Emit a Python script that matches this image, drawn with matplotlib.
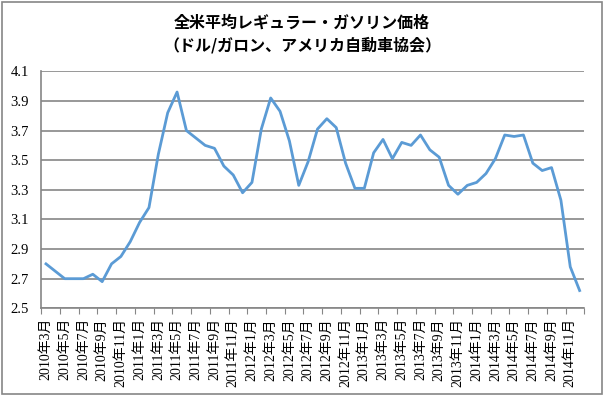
import matplotlib
matplotlib.use("Agg")
import matplotlib.pyplot as plt
import numpy as np
from matplotlib.patches import Rectangle

plt.rcParams['font.family'] = ['Liberation Serif', 'Noto Sans CJK JP', 'DejaVu Sans']

# monthly average, 2010/3 - 2014/12
months = []
for y in range(2010, 2015):
    for m in range(1, 13):
        if (y == 2010 and m < 3):
            continue
        months.append(f"{y}年{m}月")

price = [2.80, 2.75, 2.70, 2.70, 2.70, 2.73, 2.68, 2.80, 2.85, 2.95,
         3.08, 3.18, 3.54, 3.82, 3.96, 3.70, 3.65, 3.60, 3.58, 3.46,
         3.40, 3.28, 3.35, 3.71, 3.92, 3.83, 3.63, 3.33, 3.49, 3.71,
         3.78, 3.72, 3.48, 3.31, 3.31, 3.55, 3.64, 3.51, 3.62, 3.60,
         3.67, 3.57, 3.52, 3.33, 3.27, 3.33, 3.35, 3.41, 3.51, 3.67,
         3.66, 3.67, 3.48, 3.43, 3.45, 3.23, 2.78, 2.62]

yticks = [2.5, 2.7, 2.9, 3.1, 3.3, 3.5, 3.7, 3.9, 4.1]

fig = plt.figure(figsize=(6.04, 3.97), dpi=100)
ax = fig.add_axes([0.0684, 0.2234, 0.899, 0.597])

x = np.arange(len(price))
ax.plot(x, price, color='#5B9BD5', lw=2.0, solid_joinstyle='round', zorder=3)

ax.set_xlim(-0.5, len(price) - 0.5)
ax.set_ylim(2.5, 4.1)
ax.set_yticks(yticks)
ax.set_yticklabels([f"{v:.1f}" for v in yticks], fontsize=10.5)
ax.tick_params(axis='y', length=0, pad=9)
ax.yaxis.grid(True, color='#868686', lw=1.2)
ax.set_axisbelow(True)

# ticks between categories, labels every 2 months
ax.set_xticks(np.arange(-0.5, len(price), 2))
ax.set_xticklabels([])
ax.set_xticks(x[::2], minor=True)
ax.set_xticklabels(months[::2], minor=True, rotation=90, fontsize=10)
ax.tick_params(axis='x', which='major', length=4, color='#868686', direction='out')
ax.tick_params(axis='x', which='minor', length=0, pad=7)

for s in ['top', 'right']:
    ax.spines[s].set_visible(False)
for s in ['left', 'bottom']:
    ax.spines[s].set_color('#868686')
    ax.spines[s].set_linewidth(1.2)

fig.text(0.5, 0.943, '全米平均レギュラー・ガソリン価格', ha='center', va='center',
         fontsize=11.5, fontweight='bold', family=['Noto Sans CJK JP'])
fig.text(0.5, 0.886, '（ドル/ガロン、アメリカ自動車協会）', ha='center', va='center',
         fontsize=11.5, fontweight='bold', family=['Noto Sans CJK JP'])

fig.patches.append(Rectangle((0.004, 0.007), 0.992, 0.988, transform=fig.transFigure,
                             fill=False, ec='#868686', lw=1.2))

fig.savefig('out.png', dpi=100)
